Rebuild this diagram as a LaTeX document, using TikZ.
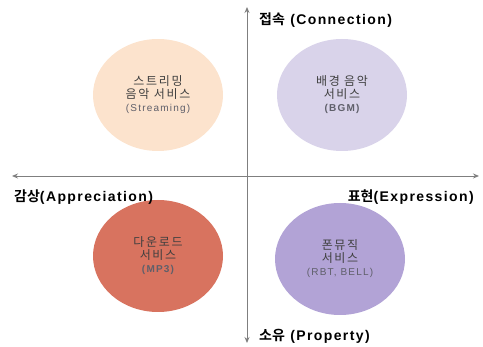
\documentclass[tikz,border=0pt]{standalone}
\usepackage{fontspec}
\setmainfont{Liberation Sans}
\newfontfamily\kr[LetterSpace=14]{Noto Sans CJK KR}
\newfontfamily\krb{Noto Sans CJK KR Bold}
\newfontfamily\subf[LetterSpace=12]{Liberation Sans}
\newfontfamily\subfb[LetterSpace=12]{Liberation Sans Bold}
\newfontfamily\axf[LetterSpace=10]{Liberation Sans Bold}
\usetikzlibrary{shapes.geometric,arrows.meta}
\definecolor{axisgray}{HTML}{7F7F7F}
\definecolor{txtgray}{HTML}{3F3F3F}
\definecolor{subgray}{HTML}{5F5F6A}
\definecolor{peach}{HTML}{FCE3CD}
\definecolor{lav}{HTML}{D9D3EA}
\definecolor{salmon}{HTML}{D8735F}
\definecolor{purp}{HTML}{B2A3D6}
\newcommand\subtxt[1]{{\subf\fontsize{10}{11}\selectfont\color{subgray}#1}}
\newcommand\subtxtb[1]{{\subfb\fontsize{10}{11}\selectfont\color{subgray}#1}}
\begin{document}
\begin{tikzpicture}[x=1pt,y=-1pt,
  axis/.style={draw=axisgray,line width=0.9pt,-{Stealth[length=6pt,width=5pt]}},
  blob/.style={ellipse,minimum width=130pt,minimum height=112pt,inner sep=0pt,align=center,text=txtgray,font=\kr\fontsize{12}{13}\selectfont},
  axlab/.style={font=\axf\fontsize{14}{16}\selectfont,text=black,inner sep=0pt}]
\useasboundingbox (0,0) rectangle (483,347);
\coordinate (c) at (247,176);
\coordinate (L) at (12,176);
\coordinate (R) at (479,176);
\coordinate (T) at (247,7);
\coordinate (B) at (247,343);
\draw[axis] (c) -- (L);
\draw[axis] (c) -- (R);
\draw[axis] (c) -- (T);
\draw[axis] (c) -- (B);
\node[blob,fill=peach] (tl) at (158,95) {스트리밍\\음악 서비스\\\subtxt{(Streaming)}};
\node[blob,fill=lav] (tr) at (342,95) {배경 음악\\서비스\\\subtxtb{(BGM)}};
\node[blob,fill=salmon] (bl) at (158,256) {다운로드\\서비스\\\subtxtb{(MP3)}};
\node[blob,fill=purp] (br) at (340,259) {폰뮤직\\서비스\\\subtxt{(RBT, BELL)}};
\node[axlab,anchor=west] (nc) at (259,20) {{\krb 접속} (Connection)};
\node[axlab,anchor=west] (np) at (259,336) {{\krb 소유} (Property)};
\node[axlab,anchor=west] (na) at (14,197) {{\krb 감상}(Appreciation)};
\node[axlab,anchor=east] (ne) at (474,197) {{\krb 표현}(Expression)};
\end{tikzpicture}
\end{document}
